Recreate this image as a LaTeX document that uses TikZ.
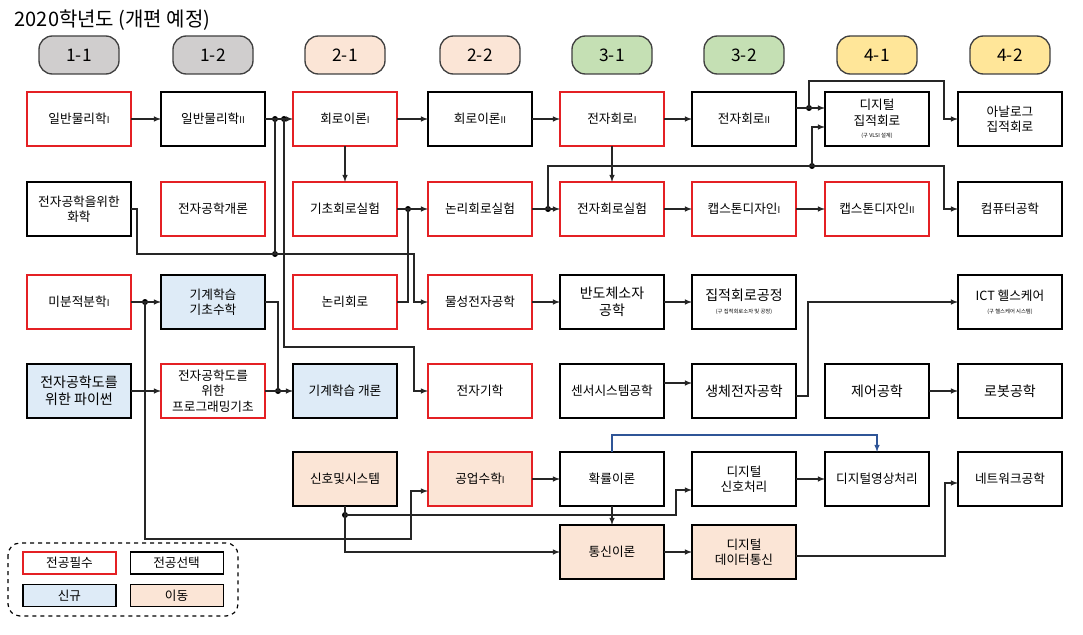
\documentclass[tikz,border=0pt]{standalone}
\usepackage{fontspec}
\setmainfont{Noto Sans CJK KR}
\usetikzlibrary{arrows,calc,positioning}
\definecolor{reqred}{RGB}{228,32,36}
\definecolor{newblue}{RGB}{222,235,247}
\definecolor{movpeach}{RGB}{251,229,214}
\definecolor{semgray}{RGB}{208,206,206}
\definecolor{sempeach}{RGB}{251,229,214}
\definecolor{semgreen}{RGB}{197,224,180}
\definecolor{semyellow}{RGB}{255,230,153}
\definecolor{probblue}{RGB}{47,85,151}
\newcommand{\rn}[1]{{\fontsize{7}{7}\selectfont #1}}
\newcommand{\oldname}[1]{{\fontsize{4}{5}\selectfont #1}}
\begin{document}
\begin{tikzpicture}[x=0.75pt,y=-0.75pt,
    box/.style={draw,rectangle,minimum width=78pt,minimum height=40.5pt,inner sep=1pt,outer sep=0pt,align=center,line width=0.8pt,font=\fontsize{9.5}{11.5}\selectfont},
    req/.style={box,draw=reqred},
    opt/.style={box,draw=black},
    fresh/.style={fill=newblue},
    moved/.style={fill=movpeach},
    sem/.style={draw=black!75,line width=1pt,rounded corners=10pt,minimum width=60pt,minimum height=28.5pt,font=\fontsize{13}{15}\selectfont},
    arr/.style={-latex,line width=0.85pt,draw=black!85},
    ln/.style={line width=0.85pt,draw=black!85},
    dot/.style={circle,fill=black,inner sep=0pt,minimum size=4.5pt},
    leg/.style={draw,rectangle,minimum width=69.75pt,minimum height=16.5pt,inner sep=0pt,line width=0.8pt,font=\fontsize{9.5}{11}\selectfont},
    node distance=9.75pt]
\useasboundingbox (0,0) rectangle (1083,635);

\node[anchor=west,font=\fontsize{15}{17}\selectfont] (title) at (10,20) {2020학년도 (개편 예정)};

\node[sem,fill=semgray] (s11) at (79,55) {1-1};
\node[sem,fill=semgray] (s12) at (213,55) {1-2};
\node[sem,fill=sempeach] (s21) at (345,55) {2-1};
\node[sem,fill=sempeach] (s22) at (480,55) {2-2};
\node[sem,fill=semgreen] (s31) at (612,55) {3-1};
\node[sem,fill=semgreen] (s32) at (744,55) {3-2};
\node[sem,fill=semyellow] (s41) at (877,55) {4-1};
\node[sem,fill=semyellow] (s42) at (1010,55) {4-2};

% row 1
\node[req] (gp1) at (79,119) {일반물리학\rn{I}};
\node[opt] (gp2) at (213,119) {일반물리학\rn{II}};
\node[req] (ct1) at (345,119) {회로이론\rn{I}};
\node[opt] (ct2) at (480,119) {회로이론\rn{II}};
\node[req] (ec1) at (612,119) {전자회로\rn{I}};
\node[opt] (ec2) at (744,119) {전자회로\rn{II}};
\node[opt] (dic) at (877,119) {디지털\\집적회로\\[-2pt]\oldname{(구 VLSI 설계)}};
\node[opt] (ana) at (1010,119) {아날로그\\집적회로};

% row 2
\node[opt] (chem) at (79,209) {전자공학을위한\\화학};
\node[req] (intro) at (213,209) {전자공학개론};
\node[req] (bc) at (345,209) {기초회로실험};
\node[req] (lcl) at (480,209) {논리회로실험};
\node[req] (ecl) at (612,209) {전자회로실험};
\node[req] (cap1) at (744,209) {캡스톤디자인\rn{I}};
\node[req] (cap2) at (877,209) {캡스톤디자인\rn{II}};
\node[opt] (comp) at (1010,209) {컴퓨터공학};

% row 3
\node[req] (calc) at (79,302) {미분적분학\rn{I}};
\node[opt,fresh] (mlm) at (213,302) {기계학습\\기초수학};
\node[req] (lc) at (345,302) {논리회로};
\node[req] (mat) at (480,302) {물성전자공학};
\node[opt,font=\fontsize{10.5}{12.5}\selectfont] (semi) at (612,302) {반도체소자\\공학};
\node[opt,font=\fontsize{10.5}{12.5}\selectfont] (icp) at (744,302) {집적회로공정\\[-3pt]\oldname{(구 집적회로소자 및 공정)}};
\node[opt] (ict) at (1010,302) {ICT 헬스케어\\[-2pt]\oldname{(구 헬스케어 시스템)}};

% row 4
\node[opt,fresh,font=\fontsize{10.5}{12.5}\selectfont] (py) at (79,391) {전자공학도를\\위한 파이썬};
\node[req] (pf) at (213,391) {전자공학도를\\위한\\프로그래밍기초};
\node[opt,fresh] (mli) at (345,391) {기계학습 개론};
\node[req] (emag) at (480,391) {전자기학};
\node[opt] (sens) at (612,391) {센서시스템공학};
\node[opt,font=\fontsize{10.5}{12.5}\selectfont] (bio) at (744,391) {생체전자공학};
\node[opt,font=\fontsize{10.5}{12.5}\selectfont] (ctl) at (877,391) {제어공학};
\node[opt,font=\fontsize{10.5}{12.5}\selectfont] (rob) at (1010,391) {로봇공학};

% row 5
\node[opt,moved] (ss) at (345,479) {신호및시스템};
\node[req,moved] (em) at (480,479) {공업수학\rn{I}};
\node[opt] (prob) at (612,479) {확률이론};
\node[opt] (dsp) at (744,479) {디지털\\신호처리};
\node[opt] (dip) at (877,479) {디지털영상처리};
\node[opt] (net) at (1010,479) {네트워크공학};

% row 6
\node[opt,moved] (comm) at (612,552) {통신이론};
\node[opt,moved] (ddc) at (744,552) {디지털\\데이터통신};

% junctions
\node[dot] (j1) at (275,119) {};
\node[dot] (j2) at (284,119) {};
\node[dot] (j3) at (275,254) {};
\node[dot] (j4) at (408,209) {};
\node[dot] (j5) at (548,209) {};
\node[dot] (j6) at (809,108) {};
\node[dot] (j7) at (812,166) {};
\node[dot] (j8) at (145,302) {};
\node[dot] (j9) at (278,391) {};
\node[dot] (j10) at (345,515) {};

% connectors
\draw[arr] (gp1) -- (gp2);
\draw[arr] (gp2) -- (ct1);
\draw[ln] (j1.center) -- (j3.center);
\draw[arr] (chem.east) -- ++(6,0) |- (j3.center) -- ++(139,0) |- (mat.west);
\draw[arr] (j2.center) |- ++(130,228) |- (emag.west);
\draw[arr] (ct1) -- (ct2);
\draw[arr] (ct2) -- (ec1);
\draw[arr] (ec1) -- (ec2);
\draw[arr] (ct1) -- (bc);
\draw[arr] ($(ec2.east)+(0,-11)$) -- ($(dic.west)+(0,-11)$);
\draw[arr] (j6.center) |- ++(135,-27) |- (ana.west);
\draw[arr] (ec1) -- (ecl);
\draw[arr] (bc) -- (lcl);
\draw[ln] (lc.east) -| (j4.center);
\draw[arr] (lcl) -- (ecl);
\draw[arr] (j5.center) |- ++(396,-43) |- (comp.west);
\draw[arr] (j7.center) |- ($(dic.west)+(0,8)$);
\draw[arr] (ecl) -- (cap1);
\draw[arr] (cap1) -- (cap2);
\draw[arr] (mat) -- (semi);
\draw[arr] (semi) -- (icp);
\draw[arr] (calc) -- (mlm);
\draw[arr] (j8.center) |- ++(266,237) |- ($(em.west)+(0,12)$);
\draw[ln] (mlm.east) -| (j9.center);
\draw[arr] (py) -- (pf);
\draw[arr] (pf) -- (mli);
\draw[arr] ($(sens.east)+(0,-8)$) -- ($(bio.west)+(0,-8)$);
\draw[arr] ($(bio.east)+(0,5)$) -- ++(12,0) |- (ict.west);
\draw[arr] (ctl) -- (rob);
\draw[ln] (ss) -- (j10.center);
\draw[arr] (j10.center) -- ++(331,0) |- ($(dsp.west)+(0,11)$);
\draw[arr] (j10.center) |- (comm.west);
\draw[arr] (em) -- (prob);
\draw[arr] (prob) -- (comm);
\draw[arr,draw=probblue] (prob.north) -- ++(0,-17) -| (dip.north);
\draw[arr] (dsp) -- (dip);
\draw[arr] (comm) -- (ddc);
\draw[arr] ($(ddc.east)+(0,4)$) -- ++(149,0) |- ($(net.west)+(0,4)$);

% legend
\draw[dashed,line width=0.9pt,rounded corners=9pt] (8,543) rectangle (238,616);
\node[leg,draw=reqred] (lreq) at (69.5,563) {전공필수};
\node[leg,right=of lreq] (lopt) {전공선택};
\node[leg,fill=newblue] (lnew) at (69.5,595.5) {신규};
\node[leg,fill=movpeach,right=of lnew] (lmov) {이동};
\end{tikzpicture}
\end{document}
